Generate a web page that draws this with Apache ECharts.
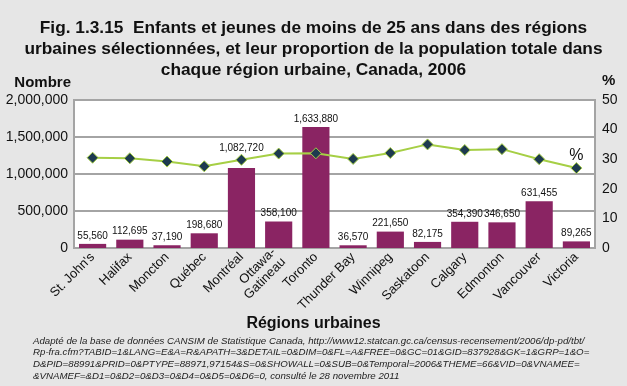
<!DOCTYPE html>
<html><head><meta charset="utf-8">
<script src="https://cdn.jsdelivr.net/npm/echarts@6/dist/echarts.min.js"></script>
<style>html,body{margin:0;padding:0;background:#e6e6e6}#c{width:627px;height:386px}</style>
</head><body><div id="c"></div>
<script>
const categories = ["St. John's","Halifax","Moncton","Québec","Montréal","Ottawa-\nGatineau","Toronto","Thunder Bay","Winnipeg","Saskatoon","Calgary","Edmonton","Vancouver","Victoria"];
const youthCounts = [55560,112695,37190,198680,1082720,358100,1633880,36570,221650,82175,354390,346650,631455,89265];
const youthPercent = [30.5,30.3,29.2,27.6,29.8,31.9,32.0,30.1,32.1,35.0,33.1,33.4,30.0,27.0];
const leftTicks = {min:0,max:2000000,interval:500000};
const rightTicks = {min:0,max:50,interval:10};

const fmt = v => Number(v).toLocaleString('en-US');
const chart = echarts.init(document.getElementById('c'));
const FF = '"Liberation Sans", Arial, sans-serif';
chart.setOption({
  backgroundColor:'#e6e6e6',
  animation:false,
  textStyle:{fontFamily:FF},
  title:[
    {text:'Fig. 1.3.15  Enfants et jeunes de moins de 25 ans dans des régions\nurbaines sélectionnées, et leur proportion de la population totale dans\nchaque région urbaine, Canada, 2006',
     left:'center', top:18, padding:0,
     textStyle:{fontFamily:FF,fontSize:17.3,fontWeight:'bold',color:'#111',lineHeight:21}},
    {text:'Régions urbaines', left:'center', top:315, padding:0,
     textStyle:{fontFamily:FF,fontSize:16,fontWeight:'bold',color:'#111',lineHeight:18}},
    {text:'Adapté de la base de données CANSIM de Statistique Canada, http://www12.statcan.gc.ca/census-recensement/2006/dp-pd/tbt/\nRp-fra.cfm?TABID=1&LANG=E&A=R&APATH=3&DETAIL=0&DIM=0&FL=A&FREE=0&GC=01&GID=837928&GK=1&GRP=1&O=\nD&PID=88991&PRID=0&PTYPE=88971,97154&S=0&SHOWALL=0&SUB=0&Temporal=2006&THEME=66&VID=0&VNAMEE=\n&VNAMEF=&D1=0&D2=0&D3=0&D4=0&D5=0&D6=0, consulté le 28 novembre 2011',
     left:33, top:335, padding:0,
     textStyle:{fontFamily:FF,fontSize:9.7,fontStyle:'italic',fontWeight:'normal',color:'#222',lineHeight:11.7}}
  ],
  grid:{left:74,right:32,top:100,bottom:138,show:true,backgroundColor:'#fff',borderColor:'#a4a4a4',borderWidth:2},
  xAxis:{type:'category',data:categories,
    axisLine:{show:false},axisTick:{show:false},
    axisLabel:{rotate:45,interval:0,fontSize:13,color:'#111',margin:7,lineHeight:14}},
  yAxis:[
    {type:'value',min:leftTicks.min,max:leftTicks.max,interval:leftTicks.interval,
     name:'Nombre',nameLocation:'end',nameGap:10,nameTextStyle:{fontSize:15,fontWeight:'bold',color:'#111',align:'right',padding:[0,3,0,0]},
     axisLabel:{formatter:fmt,fontSize:14,color:'#111',margin:6},
     axisLine:{show:false},axisTick:{show:false},
     splitLine:{lineStyle:{color:'#a4a4a4',width:2}}},
    {type:'value',min:rightTicks.min,max:rightTicks.max,interval:rightTicks.interval,
     name:'%',nameLocation:'end',nameGap:12,nameTextStyle:{fontSize:15,fontWeight:'bold',color:'#111',align:'left',padding:[0,0,0,7]},
     axisLabel:{fontSize:14,color:'#111',margin:7},
     axisLine:{show:false},axisTick:{show:false},splitLine:{show:false}}
  ],
  series:[
    {type:'bar',data:youthCounts.map((v,i)=>i===4?{value:v,label:{offset:[0,-12]}}:v),barWidth:'73%',yAxisIndex:0,
     itemStyle:{color:'#8a2463'},
     label:{show:true,position:'top',formatter:p=>fmt(p.value),fontSize:10,color:'#111',distance:3}},
    {type:'line',data:youthPercent.map((v,i)=>i===youthPercent.length-1?{value:v,label:{show:true,formatter:'%',position:'top',fontSize:16,color:'#111',distance:-2}}:v),
     yAxisIndex:1,symbol:'diamond',symbolSize:11,
     lineStyle:{color:'#a6cf45',width:2},
     itemStyle:{color:'#1d3a4f',borderColor:'#a6cf45',borderWidth:1}}
  ]
});
</script></body></html>
